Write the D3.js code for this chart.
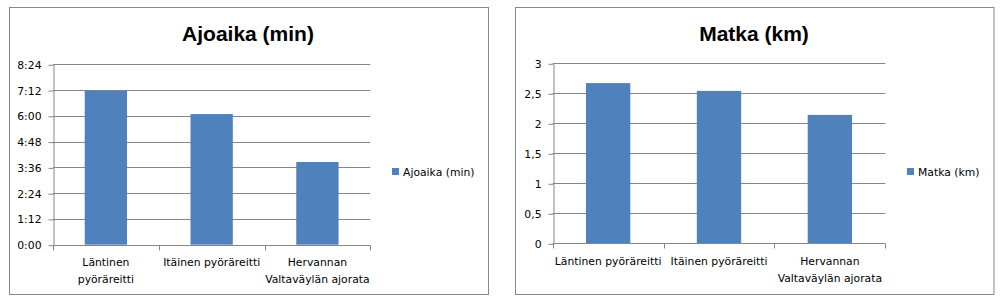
<!DOCTYPE html>
<html>
<head>
<meta charset="utf-8">
<script src="https://cdn.jsdelivr.net/npm/d3@7"></script>
<style>
  body { margin: 0; background: #fff; }
  svg text { font-family: "DejaVu Sans", sans-serif; }
</style>
</head>
<body>
<div id="charts"></div>
<script>
// data
var categories = ["Läntinen pyöräreitti", "Itäinen pyöräreitti", "Hervannan Valtaväylän ajorata"];
// label lines as they wrap in each chart
var labelsAjo = [["Läntinen", "pyöräreitti"], ["Itäinen pyöräreitti"], ["Hervannan", "Valtaväylän ajorata"]];
var labelsMatka = [["Läntinen pyöräreitti"], ["Itäinen pyöräreitti"], ["Hervannan", "Valtaväylän ajorata"]];
var ajoaikaSec = [430, 365, 231];        // seconds
var ajoTicks = [0, 72, 144, 216, 288, 360, 432, 504];
var matkaKm = [2.67, 2.54, 2.14];
var matkaTicks = [0, 0.5, 1, 1.5, 2, 2.5, 3];

var w = 1006, h = 303,
    barColor = "#4F81BD", gridColor = "#868686", frameColor = "#888888";

var svg = d3.select("#charts").append("svg")
    .attr("width", w)
    .attr("height", h);

function fmtMinSec(s) {
  var m = Math.floor(s / 60), r = s % 60;
  return m + ":" + (r < 10 ? "0" : "") + r;
}
function fmtComma(v) {
  return String(v).replace(".", ",");
}

// one chart panel
function drawChart(cfg) {
  // outer frame
  svg.append("rect")
      .attr("x", cfg.frame[0]).attr("y", cfg.frame[1])
      .attr("width", cfg.frame[2]).attr("height", cfg.frame[3])
      .attr("fill", "#fff")
      .attr("stroke", frameColor)
      .attr("stroke-width", 1);

  // title
  svg.append("text")
      .attr("x", cfg.titleX)
      .attr("y", 41)
      .attr("text-anchor", "middle")
      .style("font-family", "'Liberation Sans', Arial, sans-serif")
      .style("font-weight", "bold")
      .style("font-size", "21px")
      .attr("fill", "#000")
      .text(cfg.title);

  var p = cfg.plot;
  var x = d3.scaleBand().domain(categories).range([p.left, p.right]).paddingInner(0).paddingOuter(0),
      y = d3.scaleLinear().domain([0, cfg.ticks[cfg.ticks.length - 1]]).range([p.bottom, p.top]);

  var g = svg.append("g");

  // gridlines
  g.selectAll(".grid")
    .data(cfg.ticks.slice(1))
    .enter().append("line")
      .attr("x1", p.left).attr("x2", p.right)
      .attr("y1", function(d) { return Math.round(y(d)) + 0.5; })
      .attr("y2", function(d) { return Math.round(y(d)) + 0.5; })
      .attr("stroke", gridColor);

  // bars
  var barW = x.bandwidth() * 0.4;
  g.selectAll(".bar")
    .data(cfg.values)
    .enter().append("rect")
      .attr("fill", barColor)
      .attr("x", function(d, i) { return x(categories[i]) + (x.bandwidth() - barW) / 2; })
      .attr("y", function(d) { return y(d); })
      .attr("width", barW)
      .attr("height", function(d) { return p.bottom - y(d); });

  // y-axis
  var yAxis = g.append("g")
      .attr("transform", "translate(" + (Math.round(p.left) + 0.5) + ",0.5)")
      .call(d3.axisLeft(y).tickValues(cfg.ticks).tickFormat(cfg.fmt).tickSizeInner(5).tickSizeOuter(0).tickPadding(7));
  yAxis.select(".domain").attr("stroke", gridColor);
  yAxis.selectAll(".tick line").attr("stroke", gridColor);
  yAxis.selectAll(".tick text")
      .style("font-size", "10.8px")
      .attr("fill", "#000");

  // x-axis line with ticks at category boundaries
  var bottomY = Math.round(p.bottom) + 0.5;
  g.append("line")
      .attr("x1", p.left).attr("x2", p.right)
      .attr("y1", bottomY).attr("y2", bottomY)
      .attr("stroke", gridColor);
  var bounds = categories.map(function(c) { return x(c); }).concat([p.right]);
  g.selectAll(".xtick")
    .data(bounds)
    .enter().append("line")
      .attr("x1", function(d) { return Math.round(d) + 0.5; })
      .attr("x2", function(d) { return Math.round(d) + 0.5; })
      .attr("y1", bottomY).attr("y2", bottomY + 5)
      .attr("stroke", gridColor);

  // category labels
  var lbl = g.selectAll(".xlabel")
    .data(cfg.labels)
    .enter().append("text")
      .attr("text-anchor", "middle")
      .attr("fill", "#000")
      .style("font-size", "10.8px")
      .attr("transform", function(d, i) {
        return "translate(" + (x(categories[i]) + x.bandwidth() / 2) + "," + (p.bottom + 21.5) + ")";
      });
  lbl.selectAll("tspan")
    .data(function(d) { return d; })
    .enter().append("tspan")
      .attr("x", 0)
      .attr("y", function(d, i) { return i * 17; })
      .text(function(d) { return d; });

  // legend
  var leg = svg.append("g")
      .attr("transform", "translate(" + cfg.legendX + ",168)");
  leg.append("rect")
      .attr("width", 7).attr("height", 7)
      .attr("fill", barColor);
  leg.append("text")
      .attr("x", 11)
      .attr("y", 8)
      .attr("fill", "#000")
      .style("font-size", "10.8px")
      .text(cfg.title);
}

drawChart({
  frame: [9.5, 7.5, 479, 287],
  title: "Ajoaika (min)",
  titleX: 248,
  plot: {left: 53, right: 370.3, top: 64.3, bottom: 244.7},
  values: ajoaikaSec,
  ticks: ajoTicks,
  fmt: fmtMinSec,
  labels: labelsAjo,
  legendX: 392
});

drawChart({
  frame: [515.5, 7.5, 478.5, 287],
  title: "Matka (km)",
  titleX: 754,
  plot: {left: 552.7, right: 885.3, top: 63.3, bottom: 243.3},
  values: matkaKm,
  ticks: matkaTicks,
  fmt: fmtComma,
  labels: labelsMatka,
  legendX: 907
});
</script>
</body>
</html>
